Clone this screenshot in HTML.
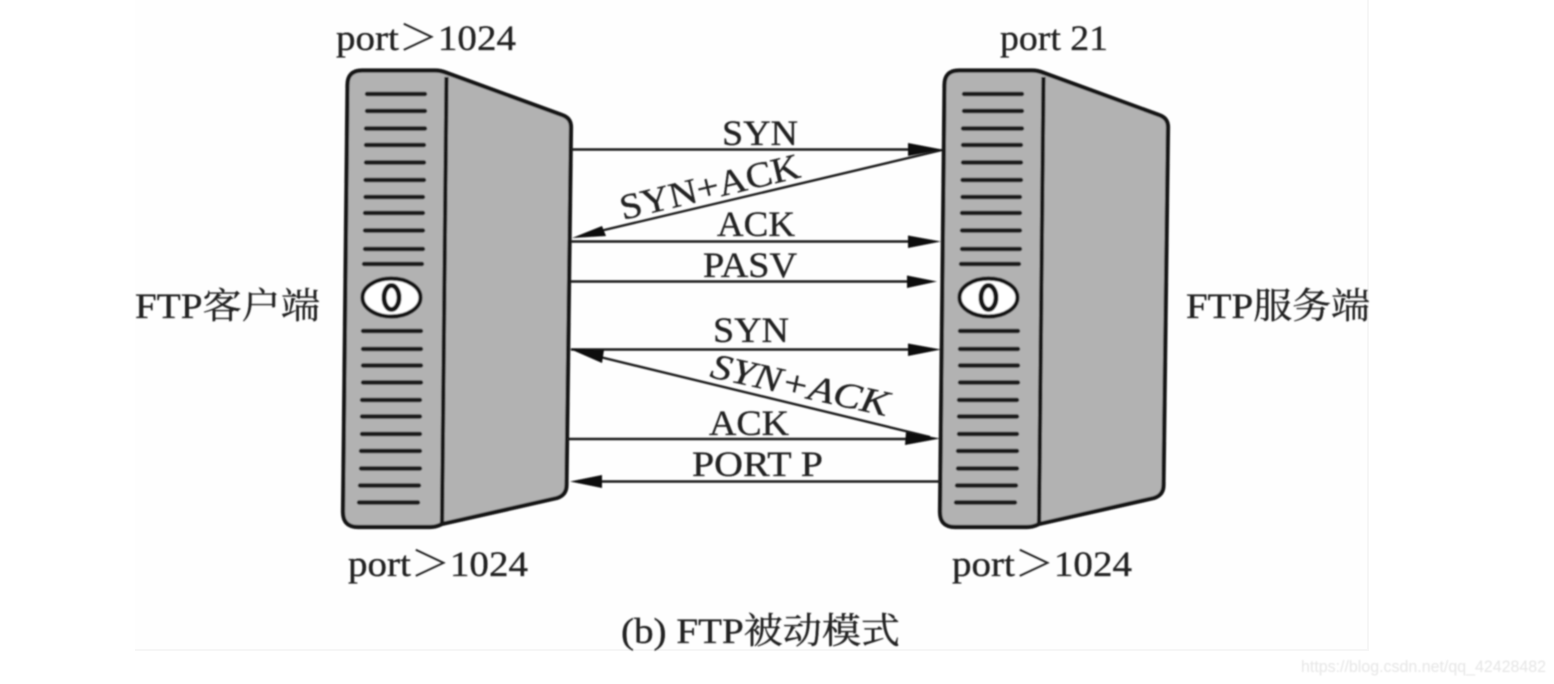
<!DOCTYPE html>
<html><head><meta charset="utf-8">
<style>
html,body{margin:0;padding:0;background:#fff}
svg{display:block}
text{font-family:"Liberation Serif","Noto Serif CJK SC",serif;font-size:36px;fill:#222;stroke:#222;stroke-width:.35px}
.cjk{font-family:"Liberation Serif","Noto Serif CJK SC",serif}
</style></head>
<body>
<svg width="1554" height="684" viewBox="0 0 1554 684" xmlns="http://www.w3.org/2000/svg">
<defs>
<filter id="b" x="-5%" y="-5%" width="110%" height="110%"><feGaussianBlur stdDeviation="0.7"/></filter>
</defs>
<rect x="135" y="0" width="1233" height="650" fill="#fefefe"/>
<path d="M135 650H1368V0" fill="none" stroke="#f6f6f6" stroke-width="2"/>
<g filter="url(#b)">
<!-- Left server -->
<g>
<path d="M362 70.500H435Q441 70.500 447 73L562 115Q571 118 571 127L566.500 485Q566.500 495 557 498L442 524Q436 527 430 527H358Q343 527 343 512L347.500 85Q347.500 70.500 362 70.500Z" fill="#b2b2b2" stroke="#161616" stroke-width="4.200" stroke-linejoin="round"/>
<path d="M446.500 77L442 524" stroke="#161616" stroke-width="4.200" fill="none"/>
<g stroke="#1c1c1c" stroke-width="4.400" stroke-linecap="round">
<path d="M367 94H425M367 111H425M366 128.500H425M366 145H424M366 162.500H424M365.500 180H424M365.500 197H423M365 213H423M365 230.500H423M365 249H423M364 264H422"/>
<path d="M363 331H421M363 349H421M363 365.500H421M363 382.500H421M362 400H420M362 416.500H420M362 434H420M361 451H420M361 468.500H420M360 485.500H419M359 502.500H418"/>
</g>
<ellipse cx="391.500" cy="297.500" rx="29" ry="19" fill="#fff" stroke="#161616" stroke-width="4.200"/>
<ellipse cx="391.500" cy="297.500" rx="7.500" ry="12" fill="none" stroke="#161616" stroke-width="5"/>
</g>
<!-- Right server -->
<g>
<path d="M959 70.500H1032Q1038 70.500 1044 73L1159 115Q1168 118 1168 127L1163.500 485Q1163.500 495 1154 498L1039 524Q1033 527 1027 527H955Q940 527 940 512L944.500 85Q944.500 70.500 959 70.500Z" fill="#b2b2b2" stroke="#161616" stroke-width="4.200" stroke-linejoin="round"/>
<path d="M1043.500 77L1039 524" stroke="#161616" stroke-width="4.200" fill="none"/>
<g stroke="#1c1c1c" stroke-width="4.400" stroke-linecap="round">
<path d="M964 94H1022M964 111H1022M963 128.500H1022M963 145H1021M963 162.500H1021M962.500 180H1021M962.500 197H1020M962 213H1020M962 230.500H1020M962 249H1020M961 264H1019"/>
<path d="M960 331H1018M960 349H1018M960 365.500H1018M960 382.500H1018M959 400H1017M959 416.500H1017M959 434H1017M958 451H1017M958 468.500H1017M957 485.500H1016M956 502.500H1015"/>
</g>
<ellipse cx="988.500" cy="297.500" rx="29" ry="19" fill="#fff" stroke="#161616" stroke-width="4.200"/>
<ellipse cx="988.500" cy="297.500" rx="7.500" ry="12" fill="none" stroke="#161616" stroke-width="5"/>
</g>
<!-- Connectors -->
<g stroke="#1c1c1c" stroke-width="2.400" fill="none">
<path d="M571 149.500H915"/>
<path d="M942 150L600 231"/>
<path d="M571 241.500H915"/>
<path d="M571 281.500H915"/>
<path d="M571 349.500H915"/>
<path d="M600 357L930 437"/>
<path d="M567 439H915"/>
<path d="M598 481.500H941"/>
</g>
<g fill="#0c0c0c">
<path d="M942 149.500L908 143V156Z"/>
<path d="M572 238L602 226L606 236Z"/>
<path d="M941 241.500L908 235.500V248Z"/>
<path d="M937 281.500L907 275.500V288Z"/>
<path d="M941 349.500L908 343.500V356Z"/>
<path d="M570 349L604 350L602 363Z"/>
<path d="M940 438.500L906 432L905 445Z"/>
<path d="M570 481.500L602 475V488Z"/>
</g>
<!-- Labels -->
<text x="722" y="145" textLength="76" lengthAdjust="spacingAndGlyphs">SYN</text>
<text transform="translate(623 220) rotate(-13.500)" textLength="184" lengthAdjust="spacingAndGlyphs">SYN+ACK</text>
<text x="717" y="236" textLength="78" lengthAdjust="spacingAndGlyphs">ACK</text>
<text x="703" y="277" textLength="94" lengthAdjust="spacingAndGlyphs">PASV</text>
<text x="713" y="342" textLength="76" lengthAdjust="spacingAndGlyphs">SYN</text>
<text transform="translate(709 377) rotate(12.500)" textLength="181" lengthAdjust="spacingAndGlyphs" font-style="italic">SYN+ACK</text>
<text x="709" y="435" textLength="80" lengthAdjust="spacingAndGlyphs">ACK</text>
<text x="692" y="476" textLength="131" lengthAdjust="spacingAndGlyphs">PORT P</text>
<text x="336" y="50" textLength="180" lengthAdjust="spacingAndGlyphs">port＞1024</text>
<text x="1000" y="50" textLength="108" lengthAdjust="spacingAndGlyphs">port 21</text>
<text x="348" y="576" textLength="180" lengthAdjust="spacingAndGlyphs">port＞1024</text>
<text x="952" y="576" textLength="180" lengthAdjust="spacingAndGlyphs">port＞1024</text>
<text x="135" y="318" textLength="185" lengthAdjust="spacingAndGlyphs" class="cjk">FTP客户端</text>
<text x="1186" y="318" textLength="184" lengthAdjust="spacingAndGlyphs" class="cjk">FTP服务端</text>
<text x="621" y="643" textLength="279" lengthAdjust="spacingAndGlyphs" class="cjk">(b) FTP被动模式</text>
<text x="1301" y="672" textLength="245" lengthAdjust="spacingAndGlyphs" style="font-family:'Liberation Sans',sans-serif;font-size:17px;fill:#e6e6e6;stroke:none">https://blog.csdn.net/qq_42428482</text>
</g>
</svg>
</body></html>
